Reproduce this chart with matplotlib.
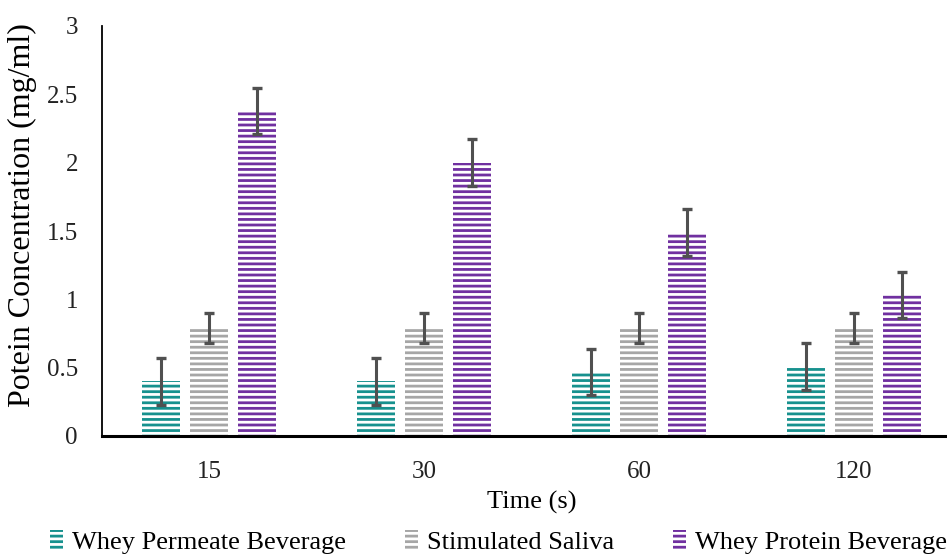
import numpy as np
import matplotlib
matplotlib.use('Agg')
import matplotlib.pyplot as plt

plt.rcParams['font.family'] = ['Liberation Serif', 'DejaVu Serif']
plt.rcParams['hatch.linewidth'] = 2.0

# Datos
tiempos = ['15', '30', '60', '120']
series = ['Whey Permeate Beverage', 'Stimulated Saliva', 'Whey Protein Beverage']
permeado = [0.40, 0.40, 0.47, 0.51]
permeado_err = [0.17, 0.17, 0.17, 0.17]
saliva = [0.79, 0.79, 0.79, 0.79]
saliva_err = [0.11, 0.11, 0.11, 0.11]
proteina = [2.38, 2.00, 1.49, 1.03]
proteina_err = [0.17, 0.17, 0.17, 0.17]

colores = ['#17918e', '#a6a6a6', '#7030a0']

fig = plt.figure(figsize=(9.47, 5.58), dpi=100)
ax = fig.add_axes([101.5 / 947, 1 - 436 / 558, 860 / 947, 410 / 558])

x = np.arange(len(tiempos))
ancho = 0.175
desplaz = 0.223
valores = [permeado, saliva, proteina]
errores = [permeado_err, saliva_err, proteina_err]

for i in range(3):
    pos = x + (i - 1) * desplaz
    ax.bar(pos, valores[i], ancho, facecolor='white', edgecolor=colores[i],
           linewidth=0, hatch='---', label=series[i])
    ax.errorbar(pos, valores[i], yerr=errores[i], fmt='none', ecolor='#505050',
                elinewidth=2.2, capsize=3.8, capthick=2.4)

ax.set_xlim(-0.5, 3.5)
ax.set_ylim(0, 3)
ax.set_yticks([0, 0.5, 1, 1.5, 2, 2.5, 3])
ax.set_yticklabels(['0', '0.5', '1', '1.5', '2', '2.5', '3'])
ax.set_xticks(x)
ax.set_xticklabels(tiempos)
ax.tick_params(axis='both', length=0, labelsize=18, colors='#222222')
ax.tick_params(axis='y', pad=17)
ax.tick_params(axis='x', pad=18)

for lado in ['top', 'right']:
    ax.spines[lado].set_visible(False)
ax.spines['left'].set_linewidth(1.3)
ax.spines['bottom'].set_linewidth(2.2)

ax.set_xlabel('Time (s)', fontsize=19)
ax.xaxis.set_label_coords(0.5, -0.133)
ax.set_ylabel('Potein Concentration (mg/ml)', fontsize=23)
ax.yaxis.set_label_coords(-0.075, 0.539)

fig.legend(loc='lower left', bbox_to_anchor=(50 / 947, 0.007, 897 / 947, 0.05), mode='expand',
           ncol=3, frameon=False, borderpad=0, borderaxespad=0,
           fontsize=19, handlelength=0.5, handleheight=0.75, handletextpad=0.35)

fig.savefig('out.png', dpi=100)
